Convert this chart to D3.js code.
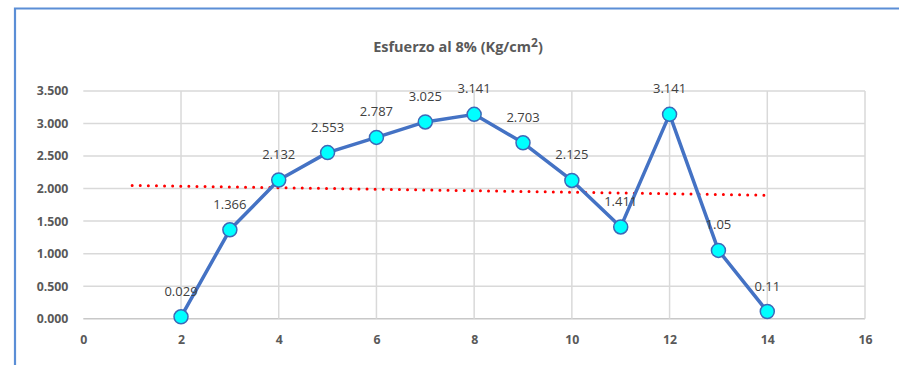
<!DOCTYPE html>
<html>
<head>
<meta charset="utf-8">
<script src="https://cdn.jsdelivr.net/npm/d3@7"></script>
<style>
  html, body { margin: 0; padding: 0; background: #fff; }
  svg { display: block; }
  text { font-family: "Open Sans", "Noto Sans", sans-serif; }
</style>
</head>
<body>
<svg id="chart" width="899" height="365"></svg>
<script>
// Probe positions and the measured stress at 8 % strain
const xValues = [2, 3, 4, 5, 6, 7, 8, 9, 10, 11, 12, 13, 14];
const stress  = [0.029, 1.366, 2.132, 2.553, 2.787, 3.025, 3.141, 2.703, 2.125, 1.411, 3.141, 1.05, 0.11];
const pointLabels = ["0.029", "1.366", "2.132", "2.553", "2.787", "3.025", "3.141", "2.703", "2.125", "1.411", "3.141", "1.05", "0.11"];
const xTicks = [0, 2, 4, 6, 8, 10, 12, 14, 16];
const yTicks = [0, 0.5, 1, 1.5, 2, 2.5, 3, 3.5];
const trendRange = [1, 14];

const svg = d3.select("#chart");
const W = 899, H = 365;

// outer frame (left + top edges visible)
svg.append("path")
  .attr("d", `M15,${H} L15,8.5 L${W},8.5`)
  .attr("fill", "none")
  .attr("stroke", "#5b8ed6")
  .attr("stroke-width", 2.2);

const x = d3.scaleLinear().domain([0, 16]).range([83.3, 865]);
const y = d3.scaleLinear().domain([0, 3.5]).range([318.7, 91]);

// title
const title = svg.append("text")
  .attr("x", 458).attr("y", 52)
  .attr("text-anchor", "middle")
  .attr("font-size", 14.5)
  .attr("font-weight", "bold")
  .attr("fill", "#595959");
title.append("tspan").text("Esfuerzo al 8% (Kg/cm");
title.append("tspan").attr("dy", -5).attr("font-size", 12).text("2");
title.append("tspan").attr("dy", 5).text(")");

// gridlines
const grid = svg.append("g");
grid.selectAll("line.h").data(yTicks).join("line")
  .attr("x1", x(0)).attr("x2", x(16))
  .attr("y1", d => y(d)).attr("y2", d => y(d))
  .attr("stroke", d => d === 0 ? "#c8c8c8" : "#d9d9d9")
  .attr("stroke-width", 1.5);
grid.selectAll("line.v").data(xTicks.filter(d => d > 0)).join("line")
  .attr("x1", d => x(d)).attr("x2", d => x(d))
  .attr("y1", y(3.5)).attr("y2", y(0))
  .attr("stroke", "#d9d9d9")
  .attr("stroke-width", 1.5);

// axes (labels only)
const yAxis = svg.append("g")
  .attr("transform", `translate(${x(0) - 15},0)`)
  .call(d3.axisLeft(y).tickValues(yTicks).tickSize(0).tickFormat(d3.format(".3f")));
yAxis.select(".domain").remove();
yAxis.selectAll("text")
  .attr("font-size", 12.3).attr("font-weight", "bold").attr("fill", "#595959")
  .attr("font-family", "'Open Sans', sans-serif").attr("x", 0);

const xAxis = svg.append("g")
  .attr("transform", `translate(0,${y(0) + 14})`)
  .call(d3.axisBottom(x).tickValues(xTicks).tickSize(0).tickFormat(d3.format("d")));
xAxis.select(".domain").remove();
xAxis.selectAll("text")
  .attr("font-size", 12.3).attr("font-weight", "bold").attr("fill", "#595959")
  .attr("font-family", "'Open Sans', sans-serif");

// linear trendline (least squares) drawn as a red dotted line
const mx = d3.mean(xValues), my = d3.mean(stress);
const sxy = d3.sum(xValues, (v, i) => (v - mx) * (stress[i] - my));
const sxx = d3.sum(xValues, v => (v - mx) * (v - mx));
const slope = sxy / sxx, intercept = my - slope * mx;
svg.append("line")
  .attr("x1", x(trendRange[0])).attr("y1", y(intercept + slope * trendRange[0]))
  .attr("x2", x(trendRange[1])).attr("y2", y(intercept + slope * trendRange[1]))
  .attr("stroke", "#ff0000")
  .attr("stroke-width", 3)
  .attr("stroke-linecap", "round")
  .attr("stroke-dasharray", "0,8.1");

// data line
const data = xValues.map((v, i) => ({ x: v, y: stress[i], label: pointLabels[i] }));
svg.append("path")
  .datum(data)
  .attr("fill", "none")
  .attr("stroke", "#4472c4")
  .attr("stroke-width", 3.5)
  .attr("stroke-linejoin", "round")
  .attr("d", d3.line().x(d => x(d.x)).y(d => y(d.y)));

// markers
svg.selectAll("circle.pt").data(data).join("circle")
  .attr("cx", d => x(d.x)).attr("cy", d => y(d.y))
  .attr("r", 7)
  .attr("fill", "#00ffff")
  .attr("stroke", "#3d69b8")
  .attr("stroke-width", 1.5);

// value labels
svg.selectAll("text.val").data(data).join("text")
  .attr("x", d => x(d.x)).attr("y", d => y(d.y) - 21)
  .attr("text-anchor", "middle")
  .attr("font-size", 13)
  .attr("fill", "#404040")
  .text(d => d.label);
</script>
</body>
</html>
